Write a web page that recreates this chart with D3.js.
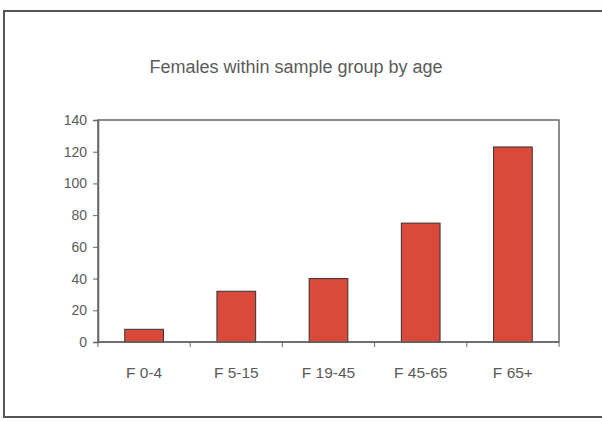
<!DOCTYPE html>
<html>
<head>
<meta charset="utf-8">
<script src="https://cdn.jsdelivr.net/npm/d3@7"></script>
<style>
  body { margin: 0; background: #fdfdfd; }
  text { font-family: "Liberation Sans", Arial, sans-serif; fill: #5a5a5a; }
</style>
</head>
<body>
<script>
// chart data
const categories = ["F 0-4", "F 5-15", "F 19-45", "F 45-65", "F 65+"];
const values = [8, 32, 40, 75, 123];
const yTicks = [0, 20, 40, 60, 80, 100, 120, 140];

const W = 602, H = 421;
const margin = { top: 120, right: 43, bottom: 79, left: 98 };
const width = W - margin.left - margin.right;
const height = H - margin.top - margin.bottom;

const root = d3.select("body").append("svg")
  .attr("width", W)
  .attr("height", H);

// outer frame of the chart
root.append("rect")
  .attr("x", 4).attr("y", 11)
  .attr("width", W + 10).attr("height", 406)
  .attr("fill", "#fff")
  .attr("stroke", "#555")
  .attr("stroke-width", 2);

root.append("text")
  .attr("x", 296).attr("y", 73)
  .attr("text-anchor", "middle")
  .style("font-size", "18px")
  .text("Females within sample group by age");

const svg = root.append("g")
  .attr("transform", "translate(" + margin.left + "," + margin.top + ")");

const x = d3.scaleBand()
  .domain(categories)
  .range([0, width])
  .paddingInner(0.58)
  .paddingOuter(0.29);
const y = d3.scaleLinear()
  .domain([0, 140])
  .range([height, 0]);

// plot area border
svg.append("rect")
  .attr("width", width).attr("height", height)
  .attr("fill", "none")
  .attr("stroke", "#666")
  .attr("stroke-width", 1.5);

svg.selectAll(".bar")
  .data(values)
  .enter().append("rect")
  .attr("class", "bar")
  .attr("x", (d, i) => x(categories[i]))
  .attr("y", d => y(d))
  .attr("width", x.bandwidth())
  .attr("height", d => height - y(d))
  .attr("fill", "#d94a3a")
  .attr("stroke", "#333")
  .attr("stroke-width", 1);

// y axis
const yAxis = svg.append("g")
  .call(d3.axisLeft(y).tickValues(yTicks).tickSize(5).tickPadding(6));
yAxis.select(".domain").attr("stroke", "#666").attr("stroke-width", 1.5);
yAxis.selectAll(".tick line").attr("stroke", "#666");
yAxis.selectAll("text").style("font-size", "14px").attr("fill", "#5a5a5a");

// x axis: ticks at band boundaries
const bounds = d3.range(categories.length + 1).map(i => i * x.step());
const xg = svg.append("g").attr("transform", "translate(0," + height + ")");
xg.append("line")
  .attr("x1", 0).attr("x2", width)
  .attr("stroke", "#666").attr("stroke-width", 1.5);
xg.selectAll(".xt")
  .data(bounds)
  .enter().append("line")
  .attr("x1", d => d).attr("x2", d => d)
  .attr("y1", 0).attr("y2", 5)
  .attr("stroke", "#666");
xg.selectAll(".xl")
  .data(categories)
  .enter().append("text")
  .attr("x", d => x(d) + x.bandwidth() / 2)
  .attr("y", 36)
  .attr("text-anchor", "middle")
  .style("font-size", "15.5px")
  .text(d => d);
</script>
</body>
</html>
